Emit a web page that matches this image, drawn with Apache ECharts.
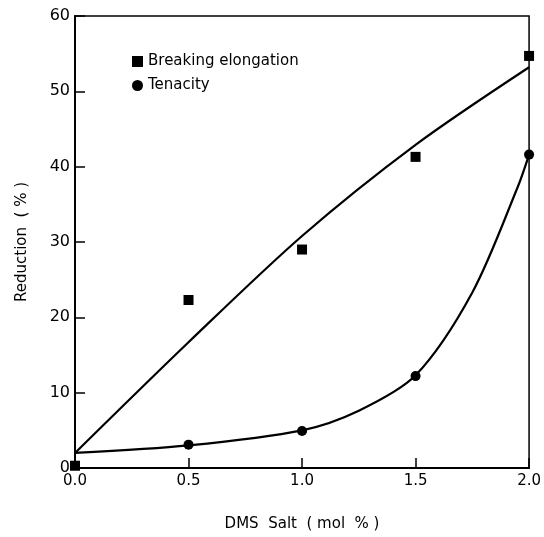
<!DOCTYPE html>
<html>
<head>
<meta charset="utf-8">
<script src="https://cdn.jsdelivr.net/npm/echarts@6/dist/echarts.min.js"></script>
<style>
  html, body { margin: 0; padding: 0; background: #fff; }
  #chart { width: 544px; height: 537px; }
</style>
</head>
<body>
<div id="chart"></div>
<script>
// measured points
var saltX = [0, 0.5, 1.0, 1.5, 2.0];
var elongation = [0.3, 22.3, 29.0, 41.3, 54.7];
var tenacityX = [0.5, 1.0, 1.5, 2.0];
var tenacity = [3.1, 4.9, 12.2, 41.6];

// fitted curves
var elongFitX = [0, 0.5, 1.0, 1.5, 2.0];
var elongFitY = [2.0, 16.7, 30.8, 42.9, 53.2];
var tenFitX = [0, 0.5, 1.0, 1.25, 1.5, 1.75, 1.95, 2.0];
var tenFitY = [2.0, 3.0, 5.0, 7.6, 12.3, 23.3, 37.3, 41.6];

function pairs(xs, ys) {
  return xs.map(function (x, i) { return [x, ys[i]]; });
}

var font = 'DejaVu Sans';
var chart = echarts.init(document.getElementById('chart'));

chart.setOption({
  animation: false,
  backgroundColor: '#fff',
  grid: {
    left: 75, right: 7, top: 16, bottom: 62,
    show: true, borderColor: '#000', borderWidth: 1.5
  },
  legend: {
    orient: 'vertical',
    left: 127, top: 49,
    itemWidth: 11, itemHeight: 11, itemGap: 9,
    data: ['Breaking elongation', 'Tenacity'],
    textStyle: { fontFamily: font, fontSize: 15, color: '#000' }
  },
  xAxis: {
    type: 'value', min: 0, max: 2, interval: 0.5,
    name: 'DMS  Salt  ( mol  % )',
    nameLocation: 'middle', nameGap: 49,
    nameTextStyle: { fontFamily: font, fontSize: 15, color: '#000' },
    axisLine: { lineStyle: { color: '#000', width: 2 } },
    axisTick: { inside: true, length: 10, lineStyle: { color: '#000', width: 1.5 } },
    axisLabel: {
      margin: 6, fontFamily: font, fontSize: 15, color: '#000',
      formatter: function (v) { return v.toFixed(1); }
    },
    splitLine: { show: false }
  },
  yAxis: {
    type: 'value', min: 0, max: 60, interval: 10,
    name: 'Reduction  ( % )',
    nameLocation: 'middle', nameGap: 45,
    nameTextStyle: { fontFamily: font, fontSize: 15, color: '#000' },
    axisLine: { show: true, lineStyle: { color: '#000', width: 2 } },
    axisTick: { show: true, inside: true, length: 10, lineStyle: { color: '#000', width: 1.5 } },
    axisLabel: { margin: 5, fontFamily: font, fontSize: 16, color: '#000' },
    splitLine: { show: false }
  },
  series: [
    {
      name: 'elongation fit', type: 'line', smooth: 0.3,
      showSymbol: false, data: pairs(elongFitX, elongFitY),
      lineStyle: { color: '#000', width: 2.2 }, z: 2
    },
    {
      name: 'tenacity fit', type: 'line', smooth: 0.3,
      showSymbol: false, data: pairs(tenFitX, tenFitY),
      lineStyle: { color: '#000', width: 2.2 }, z: 2
    },
    {
      name: 'Breaking elongation', type: 'scatter', symbol: 'rect', symbolSize: 10,
      data: pairs(saltX, elongation), itemStyle: { color: '#000', opacity: 1 }, z: 3
    },
    {
      name: 'Tenacity', type: 'scatter', symbol: 'circle', symbolSize: 10,
      data: pairs(tenacityX, tenacity), itemStyle: { color: '#000', opacity: 1 }, z: 3
    }
  ]
});
</script>
</body>
</html>
